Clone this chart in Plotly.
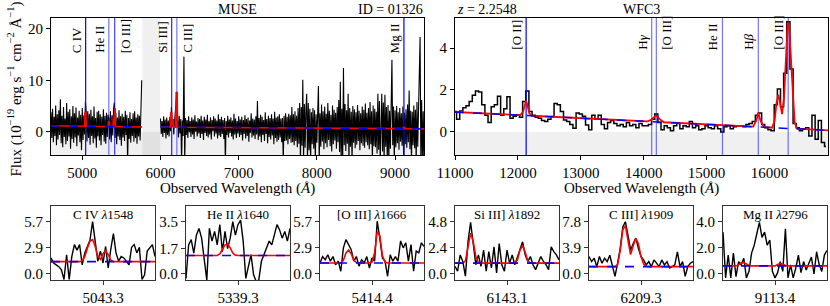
import numpy as np
import plotly.graph_objects as go

W, H = 830, 306
FONT = "Liberation Serif"

# ---------------- MUSE spectrum (10 A sampling) ----------------
muse_blue_start = 4600.0
muse_red_start = 6000.0
muse_step = 10.0
muse_blue_flux = [
    3.8, -1.2, 4.5, -2.0, 2.9, -0.8, 5.1, -2.6, 3.4, -1.5,
    4.2, -0.6, 6.3, -2.2, 3.1, -3.0, 4.8, -1.0, 2.6, -2.4,
    5.6, -1.8, 3.9, -0.9, 4.4, -3.3, 3.0, -1.4, 5.0, -2.1,
    3.6, -1.1, 4.7, -2.8, 2.8, -0.7, 4.1, -2.0, 3.3, -3.6,
    4.6, -1.6, 3.2, -0.5, 5.9, 3.8, -1.9, 4.0, -1.2, 3.5,
    -2.5, 4.3, -0.8, 3.0, -2.2, 4.9, -1.3, 2.7, -3.1, 3.9,
    -0.9, 4.1, -1.7, 3.4, -2.6, 2.9, -0.6, 4.4, -1.9, 3.1,
    -2.3, 3.7, -1.0, 3.3, 2.6, -1.5, 4.0, -2.0, 3.2, -0.7,
    4.5, 5.7, -1.2, 3.6, -2.4, 2.8, -0.9, 4.2, -1.6, 3.0,
    -2.7, 3.5, -1.1, 2.9, -1.8, 4.1, -0.6, 3.3, -6.0, 2.7,
    -1.4, 3.8, -2.1, 2.5, -0.8, 3.6, -1.9, 4.0, -1.2, 2.8,
    -2.3, 3.4, -0.9, 3.1, -1.7, 2.9, 10.0,
]
muse_red_flux = [
    2.6, -0.4, 2.1, -1.0, 3.0, -0.2, 2.4, -1.3, 2.8, -0.6,
    2.2, -0.9, 2.9, 0.1, 4.8, 1.0, 2.4, -0.5, 2.0, 3.5,
    5.2, 7.8, 2.6, -1.1, 3.1, -0.3, 2.5, -6.0, 2.2, -0.8,
    14.6, -6.0, 2.7, -0.6, 2.3, -1.2, 3.0, -0.1, 2.1, -1.0,
    2.8, -0.5, 2.4, -1.4, 3.2, 0.0, 2.0, -0.9, 2.7, -0.3,
    2.5, -1.2, 3.1, -0.4, 2.2, -1.6, 2.9, -0.2, 2.4, -0.8,
    3.3, -1.1, 2.1, -0.5, 2.8, -1.5, 2.3, 0.1, 3.0, -0.9,
    2.6, -0.3, 2.2, -1.3, 3.4, -0.7, 2.5, -1.0, 2.9, -0.4,
    2.3, -1.4, 2.7, -6.0, 2.1, -0.6, 3.1, -1.1, 2.4, -0.2,
    2.8, -0.9, 2.2, -1.5, 3.5, -0.5, 2.6, -1.2, 2.1, -0.3,
    3.0, -1.0, 2.4, -0.6, 2.9, -1.7, 2.3, -0.4, 3.2, -1.3,
    2.5, -0.8, 2.8, -1.9, 2.2, -0.2, 3.6, -1.1, 2.6, -0.7,
    2.4, -1.4, 3.0, -0.5, 6.0, -1.6, 2.7, -0.9, 3.3, -2.0,
    2.9, -0.6, 2.3, -1.8, 3.8, -0.4, 2.5, -2.2, 3.1, -1.0,
    2.7, -1.5, 3.4, -0.7, 2.6, -2.4, 3.9, -1.2, 2.8, -1.9,
    3.0, -1.6, 3.4, -1.1, 2.6, -2.0, 2.7, -6.0, 3.1, -1.8,
    3.6, -1.7, 2.9, -2.4, 3.5, -1.4, 3.2, -2.1, 4.8, -2.0,
    3.4, -2.6, 4.0, -1.8, 3.1, -3.0, 4.6, -2.3, 5.6, -6.0,
    4.8, -2.7, 10.1, -6.0, 5.4, -3.1, 4.3, 7.4, -6.0, 5.6,
    -3.6, 4.5, -6.0, 3.8, -2.4, 4.6, -3.3, 4.2, -6.0, 3.4,
    -2.1, 4.7, 8.9, -6.0, 3.6, -2.9, 5.3, -1.9, 4.0, -3.4,
    4.9, -2.2, 3.5, -3.0, 5.6, -1.6, 4.1, -2.8, 3.3, -3.8,
    5.1, -2.4, 4.3, -1.7, 3.7, -3.3, 4.8, -2.0, 6.2, -3.9,
    9.7, -6.0, 4.5, -6.0, 12.4, -2.6, 5.4, -3.7, 4.2, -2.3,
    7.4, -6.0, 4.6, -2.9, 3.9, -6.0, 5.0, -2.1, 4.4, -3.2,
    3.8, -2.5, 5.2, -1.8, 4.1, -3.6, 3.6, -2.2, 4.9, -2.7,
    4.3, -3.1, 5.5, -2.0, 3.7, -2.6, 4.6, -3.4, 5.8, -2.4,
    4.0, -6.0, 5.1, -2.8, 4.5, -3.0, 3.9, -4.2, 7.4, -3.5,
    6.0, -6.0, 4.4, 7.4, -3.8, 5.7, -6.0, 7.2, -2.9, 4.8,
    -6.0, 5.2, -6.0, 4.1, -3.3, 5.5, 14.0, -2.6, 4.9, -6.0,
    4.2, -3.0, 5.0, -2.2, 3.8, -3.5, 4.6, -1.9, 3.6, -2.7,
    4.9, -6.0, 3.7, -2.4, 4.4, -3.1, 5.3, -2.0, 8.0, -3.4,
    4.1, -6.0, 3.9, -2.6, 5.1, -3.2, 4.3, -6.0, 5.8, -2.9,
    4.7, 10.5, 18.4, -6.0, 6.2, -6.0, 4.0, -6.0,
]
muse_model_wave = [4600, 5030, 5035, 5045, 5050, 5330, 5335, 5343, 5348,
                   5392, 5397, 5402, 5406, 5410, 5419, 5424, 5760, None,
                   6000, 6128, 6133, 6143, 6148, 6155, 6163, 6168,
                   6196, 6201, 6213, 6218, 9100, 9105, 9120, 9125, 9370]
muse_model_flux = [1.17, 1.09, 3.7, 3.7, 1.09, 1.04, 2.0, 2.0, 1.03,
                   1.02, 2.6, 2.6, 1.3, 4.6, 4.6, 1.01, 0.95, None,
                   0.92, 0.91, 3.7, 3.7, 1.2, 2.5, 2.5, 0.9,
                   0.89, 7.6, 7.6, 0.89, 0.62, 0.85, 0.85, 0.62, 0.58]
muse_cont_wave = [4600, 5760, None, 6000, 9370]
muse_cont_flux = [1.17, 0.95, None, 0.92, 0.58]
muse_gap = [5767, 5997]
muse_lines_wave = [5043.3, 5339.3, 5414.4, 6143.1, 6209.3, 9113.4]
muse_lines_name = ["C IV", "He II", "[O III]", "Si III]", "C III]", "Mg II"]
muse_lines_side = ["left", "left", "right", "left", "right", "left"]
muse_lines_alpha = [1.0, 0.55, 0.75, 0.85, 0.55, 1.0]

# ---------------- WFC3 spectrum (50 A sampling) ----------------
wfc3_start = 11000.0
wfc3_step = 50.0
wfc3_flux = [
    0.97, 0.6, 1.0, 1.15, 1.25, 1.45, 1.75, 1.95, 1.9, 1.3,
    0.8, 0.45, 1.2, 1.3, 1.7, 0.8, 1.1, 1.68, 0.65, 0.75,
    0.8, 0.7, 1.45, 1.95, 0.97, 0.8, 0.7, 0.65, 0.55, 0.5,
    0.6, 0.73, 1.36, 1.3, 0.97, 0.57, 0.5, 0.35, 0.17, 0.9,
    0.85, 0.75, 0.33, 0.1, 0.8, 0.6, 0.8, 0.35, 0.15, 0.45,
    0.55, 0.4, 0.3, 0.35, 0.25, 0.45, 0.3, 0.35, 0.2, 0.4,
    0.3, 0.3, 0.35, 0.6, 0.85, 0.45, 0.1, 0.3, 0.2, 0.05,
    0.3, 0.4, 0.15, 0.3, 0.25, 0.5, 0.2, 0.3, 0.1, 0.15,
    0.3, 0.2, 0.15, 0.3, 0.15, 0.0, 0.25, 0.3, 0.15, 0.25,
    0.3, 0.28, 0.25, 0.35, 0.4, 0.5, 0.8, 0.9, 0.35, 0.2,
    0.1, 0.05, 1.3, 2.05, 1.2, 2.8, 5.25, 3.0, 0.4, 0.2,
    0.05, 0.15, 0.2, -0.2, 0.8, -0.35, 0.55, -0.5, -0.7,
]
wfc3_model_wave = [11000, 12040, 12080, 12110, 12130, 12150, 12180, 12220,
                   14060, 14120, 14180, 14210, 14250, 14320,
                   15740, 15790, 15822, 15855, 15910,
                   16040, 16080, 16110, 16141, 16170, 16200, 16230, 16260,
                   16290, 16310, 16340, 16370, 16400, 16440, 16940]
wfc3_model_flux = [0.95, 0.80, 0.95, 1.3, 1.48, 1.3, 0.9, 0.77,
                   0.50, 0.58, 0.74, 0.76, 0.62, 0.46,
                   0.25, 0.55, 0.92, 0.55, 0.24,
                   0.20, 0.5, 1.35, 1.78, 1.35, 0.85, 1.6, 3.6,
                   5.2, 5.1, 3.5, 1.5, 0.45, 0.16, 0.07]
wfc3_cont_wave = [11000, 16940]
wfc3_cont_flux = [0.95, 0.07]
wfc3_lines_wave = [12131, 14127, 14201, 15252, 15822, 16297]
wfc3_lines_name = ["[O II]", "H<i>γ</i>", "[O III]", "He II", "H<i>β</i>", "[O III]"]
wfc3_lines_side = ["left", "left", "right", "left", "left", "left"]
wfc3_lines_alpha = [1.0, 0.55, 0.55, 0.55, 0.55, 0.55]

# ---------------- zoom panels ----------------
zoom_titles = ["C IV <i>λ</i>1548", "He II <i>λ</i>1640", "[O III] <i>λ</i>1666",
               "Si III] <i>λ</i>1892", "C III] <i>λ</i>1909", "Mg II <i>λ</i>2796"]
zoom_centers = [5043.3, 5339.3, 5414.4, 6143.1, 6209.3, 9113.4]
zoom_yticks = [[0.0, 2.9, 5.7], [0.0, 1.7, 3.5], [0.0, 2.9, 5.7],
               [0.0, 2.4, 4.8], [0.0, 3.9, 7.8], [0.0, 2.0, 4.0]]
zoom_cont = [1.35, 1.24, 1.2, 1.0, 1.1, 0.62]
civ_flux = [1.75, 1.2, 1.0, 0.8, 0.45, -0.6, 2.1, -0.6, 1.9, 3.2, 2.6, 3.2, 1.0, 2.3,
            3.0, 3.7, 5.7, 3.7, 1.4, 2.5, 1.2, 3.0, 0.65, 2.7, 4.4, 2.3, 1.4, 1.9,
            1.75, 1.4, 1.0, 2.9, 3.2, 2.3, 2.9, -0.6, -0.1, 2.5, 2.9, 3.2, 1.9]
civ_model = [1.35, 1.35, 1.35, 1.35, 1.35, 1.35, 1.35, 1.35, 1.35, 1.35, 1.35, 1.35,
             1.45, 1.9, 2.8, 3.6, 3.75, 3.0, 1.9, 1.6, 2.2, 2.55, 2.1, 1.5,
             1.35, 1.35, 1.35, 1.35, 1.35, 1.35, 1.35, 1.35, 1.35, 1.35, 1.35, 1.35,
             1.35, 1.35, 1.35, 1.35, 1.35]
heii_flux = [-0.3, 1.95, 2.3, 1.4, 2.6, 3.05, 2.4, 0.85, -0.4, 3.05, 2.2, 2.85, 1.95, 3.3,
             1.5, 2.85, 1.7, 2.4, 3.5, 2.6, 3.3, 3.6, 2.2, -0.3, 0.4, 1.3, -0.05, -0.5,
             -0.4, 0.85, 1.3, 1.7, 2.2, 1.95, 2.6, 3.3, 2.95, 2.4, 2.85, 2.2, 3.05]
heii_model = [1.24, 1.24, 1.24, 1.24, 1.24, 1.24, 1.24, 1.24, 1.24, 1.24, 1.24, 1.24,
              1.24, 1.35, 1.7, 1.95, 2.0, 1.75, 1.4, 1.26, 1.24, 1.24, 1.24, 1.24,
              1.24, 1.24, 1.24, 1.24, 1.24, 1.24, 1.24, 1.24, 1.24, 1.24, 1.24, 1.24,
              1.24, 1.24, 1.24, 1.24, 1.24]
oiii_flux = [1.2, 1.9, 1.55, 2.1, 1.4, 1.9, 1.0, 1.4, 0.3, 2.85, 3.75, 3.2, 2.65, 1.4,
             1.9, 0.85, 1.55, 1.2, 1.9, 0.65, 1.75, 1.4, 5.75, 3.9, 1.75, 1.4, -0.25, 2.1,
             1.4, 1.9, 1.4, 3.6, 2.85, 3.4, 1.4, 3.2, 0.3, 2.5, 2.3, 3.4, 3.0]
oiii_model = [1.2, 1.2, 1.2, 1.2, 1.2, 1.2, 1.2, 1.2, 1.2, 1.5, 2.3, 2.6, 2.2, 1.5,
              1.25, 1.2, 1.2, 1.2, 1.2, 1.2, 1.3, 2.3, 4.6, 4.2, 2.0, 1.3, 1.2, 1.2,
              1.2, 1.2, 1.2, 1.2, 1.2, 1.2, 1.2, 1.2, 1.2, 1.2, 1.2, 1.2, 1.2]
siiii_flux = [0.7, 0.25, 1.75, 1.15, -0.2, 2.95, 4.75, 2.95, 0.85, 1.75, 0.7, 2.2, 0.25, 2.05,
              0.55, 2.5, 0.1, 2.8, 0.85, 0.25, 2.2, 1.0, 1.75, 0.85, 1.6, 2.35, 2.95, 1.75,
              1.15, 1.6, 0.85, 0.4, 1.0, 1.6, 1.15, 0.85, 0.4, 2.5, 2.05, 1.75, 1.3]
siiii_model = [1.0, 1.0, 1.0, 1.0, 1.2, 2.4, 3.75, 3.0, 1.6, 1.05, 1.0, 1.0, 1.0, 1.0,
               1.0, 1.0, 1.0, 1.0, 1.0, 1.0, 1.0, 1.0, 1.0, 1.0, 1.3, 2.2, 2.6, 2.0,
               1.2, 1.0, 1.0, 1.0, 1.0, 1.0, 1.0, 1.0, 1.0, 1.0, 1.0, 1.0, 1.0]
ciii_flux = [2.6, 1.85, 2.35, 1.1, 2.6, 1.6, 2.35, 1.85, 2.8, 1.1, -0.35, 1.6, 3.8, 7.0,
             7.8, 5.75, 3.55, 4.55, 5.35, 3.8, 2.6, 2.1, 1.35, 1.85, 1.1, 2.1, 1.6, 1.1,
             2.1, 1.35, 1.85, 0.9, 1.1, 1.35, 3.3, 1.1, 1.85, -0.35, 1.1, 1.6, 1.85]
ciii_model = [1.1, 1.1, 1.1, 1.1, 1.1, 1.1, 1.1, 1.1, 1.1, 1.1, 1.1, 1.4, 3.5, 6.6,
              7.2, 5.0, 2.9, 4.2, 5.3, 4.5, 2.6, 1.5, 1.15, 1.1, 1.1, 1.1, 1.1, 1.1,
              1.1, 1.1, 1.1, 1.1, 1.1, 1.1, 1.1, 1.1, 1.1, 1.1, 1.1, 1.1, 1.1]
mgii_flux = [3.2, -0.3, 1.45, -0.3, 1.6, -0.2, 0.95, 0.7, 1.2, -0.3, 0.2, 1.6, 2.2, 3.2,
             3.95, 2.8, 3.2, 2.2, 2.6, 0.2, -0.3, 0.1, 0.95, 0.2, 3.45, -0.3, 0.7, -0.3,
             0.45, 1.45, 0.1, 0.95, 0.3, 0.8, 1.3, 0.0, 1.7, 0.7, 0.2, 1.45, 1.8]
mgii_model = [0.62, 0.62, 0.62, 0.62, 0.62, 0.62, 0.7, 0.85, 0.88, 0.75, 0.65, 0.62, 0.62, 0.62,
              0.62, 0.62, 0.62, 0.62, 0.62, 0.62, 0.62, 0.72, 0.82, 0.75, 0.65, 0.62, 0.62, 0.62,
              0.62, 0.62, 0.62, 0.62, 0.62, 0.62, 0.62, 0.62, 0.62, 0.62, 0.62, 0.62, 0.62]
zoom_flux = [civ_flux, heii_flux, oiii_flux, siiii_flux, ciii_flux, mgii_flux]
zoom_model = [civ_model, heii_model, oiii_model, siiii_model, ciii_model, mgii_model]
zoom_halfwidth = 31.0

# ---------------- layout geometry (pixels) ----------------
top_y = (18, 155)
bot_y = (206, 280)
muse_x = (51, 424)
wfc3_x = (455, 828)
zoom_left = [51, 186, 320, 455, 589, 723]
zoom_w = 104
muse_range = ([4600, 9370], [-4.5, 22.1])
wfc3_range = ([11000, 16930], [-1.1, 5.43])


def xd(a, b):
    return [a / W, b / W]


def yd(a, b):
    return [1 - b / H, 1 - a / H]


def axis_style(fs, color="black"):
    return dict(showline=True, mirror=True, linecolor=color, linewidth=1,
                ticks="outside", ticklen=4, tickwidth=1, tickcolor=color,
                showgrid=False, zeroline=False, automargin=False,
                tickfont=dict(family=FONT, size=fs, color="black"))


fig = go.Figure()
layout = dict(template="none", width=W, height=H, autosize=False,
              margin=dict(l=0, r=0, t=0, b=0, pad=0),
              plot_bgcolor="white", paper_bgcolor="white", showlegend=False)
shapes = []
annotations = []


def txt(text, x, y, size, xanchor="center", yanchor="middle", xref="paper", yref="paper",
        angle=0, xshift=0):
    annotations.append(dict(text=text, x=x, y=y, xref=xref, yref=yref, showarrow=False,
                            xanchor=xanchor, yanchor=yanchor, textangle=angle, xshift=xshift,
                            borderpad=0, font=dict(family=FONT, size=size, color="black")))


def line(xs, ys, xa, ya, color, width, dash="solid", shape="linear"):
    fig.add_trace(go.Scatter(x=xs, y=ys, xaxis=xa, yaxis=ya, mode="lines",
                             line=dict(color=color, width=width, dash=dash, shape=shape),
                             connectgaps=False, hoverinfo="skip"))


def label(name, w, side, ypx, xref):
    if side == "left":
        txt(name, w, 1 - ypx / H, 13, xanchor="right", yanchor="bottom", xref=xref,
            angle=-90, xshift=-1)
    else:
        txt(name, w, 1 - ypx / H, 13, xanchor="left", yanchor="bottom", xref=xref,
            angle=-90, xshift=2)


# ---- MUSE panel ----
muse_blue_wave = list(muse_blue_start + muse_step * np.arange(len(muse_blue_flux)))
muse_red_wave = list(muse_red_start + muse_step * np.arange(len(muse_red_flux)))
layout["xaxis"] = dict(domain=xd(*muse_x), range=muse_range[0], anchor="y",
                       tickvals=[5000, 6000, 7000, 8000, 9000], tickformat="d",
                       **axis_style(15))
layout["yaxis"] = dict(domain=yd(*top_y), range=muse_range[1], anchor="x",
                       tickvals=[0, 10, 20], **axis_style(15))
shapes.append(dict(type="rect", xref="x", yref="y", x0=muse_range[0][0], x1=muse_range[0][1],
                   y0=muse_range[1][0], y1=0, fillcolor="rgba(0,0,0,0.06)", line_width=0,
                   layer="below"))
shapes.append(dict(type="rect", xref="x", yref="y domain", x0=muse_gap[0], x1=muse_gap[1],
                   y0=0, y1=1, fillcolor="rgba(0,0,0,0.06)", line_width=0, layer="below"))
line(muse_blue_wave + [None] + muse_red_wave, muse_blue_flux + [None] + muse_red_flux,
     "x", "y", "black", 1.1)
for w, a in zip(muse_lines_wave, muse_lines_alpha):
    line([w, w], muse_range[1], "x", "y", f"rgba(0,0,255,{a})", 1.2)
line(muse_model_wave, muse_model_flux, "x", "y", "red", 1.6)
line(muse_cont_wave, muse_cont_flux, "x", "y", "blue", 1.5, dash="dash")
for w, n, s in zip(muse_lines_wave, muse_lines_name, muse_lines_side):
    label(n, w, s, 54, "x")

# ---- WFC3 panel ----
wfc3_wave = list(wfc3_start + wfc3_step * np.arange(len(wfc3_flux)))
layout["xaxis2"] = dict(domain=xd(*wfc3_x), range=wfc3_range[0], anchor="y2",
                        tickvals=[11000, 12000, 13000, 14000, 15000, 16000], tickformat="d",
                        **axis_style(15))
layout["yaxis2"] = dict(domain=yd(*top_y), range=wfc3_range[1], anchor="x2",
                        tickvals=[0, 2, 4], **axis_style(15))
shapes.append(dict(type="rect", xref="x2", yref="y2", x0=wfc3_range[0][0], x1=wfc3_range[0][1],
                   y0=wfc3_range[1][0], y1=0, fillcolor="rgba(0,0,0,0.06)", line_width=0,
                   layer="below"))
line(wfc3_wave, wfc3_flux, "x2", "y2", "black", 1.5, shape="hvh")
for w, a in zip(wfc3_lines_wave, wfc3_lines_alpha):
    line([w, w], wfc3_range[1], "x2", "y2", f"rgba(0,0,255,{a})", 1.2)
line(wfc3_model_wave, wfc3_model_flux, "x2", "y2", "red", 1.8)
line(wfc3_cont_wave, wfc3_cont_flux, "x2", "y2", "blue", 1.5, dash="dash")
for w, n, s in zip(wfc3_lines_wave, wfc3_lines_name, wfc3_lines_side):
    label(n, w, s, 51, "x2")

# ---- zoom panels ----
offsets = np.linspace(-zoom_halfwidth, zoom_halfwidth, len(civ_flux))
for k in range(6):
    idx = k + 3
    xa, ya = f"x{idx}", f"y{idx}"
    c = zoom_centers[k]
    top = zoom_yticks[k][-1]
    yr = [-0.115 * top, 1.3 * top]
    xr = [c - zoom_halfwidth, c + zoom_halfwidth]
    layout[f"xaxis{idx}"] = dict(domain=xd(zoom_left[k], zoom_left[k] + zoom_w), range=xr,
                                 anchor=ya, tickvals=[c], ticktext=[f"{c:.1f}"],
                                 **axis_style(15, "#333"))
    layout[f"yaxis{idx}"] = dict(domain=yd(*bot_y), range=yr, anchor=xa,
                                 tickvals=zoom_yticks[k],
                                 ticktext=[f"{v:.1f}" for v in zoom_yticks[k]],
                                 **axis_style(15, "#333"))
    wl = list(c + offsets)
    line(wl, zoom_flux[k], xa, ya, "black", 1.4)
    line(wl, zoom_model[k], xa, ya, "red", 1.6)
    line(xr, [zoom_cont[k], zoom_cont[k]], xa, ya, "blue", 1.6, dash="dash")
    txt(zoom_titles[k], (zoom_left[k] + zoom_w / 2) / W, 1 - 214 / H, 13)

# ---- titles & labels ----
txt("MUSE", 237 / W, 1 - 9 / H, 14)
txt("ID = 01326", 424 / W, 1 - 9 / H, 14, xanchor="right")
txt("<i>z</i> = 2.2548", 456 / W, 1 - 9 / H, 14, xanchor="left")
txt("WFC3", 641 / W, 1 - 9 / H, 14)
txt("Observed Wavelength (<i>Å</i>)", 237.5 / W, 1 - 188 / H, 15)
txt("Observed Wavelength (<i>Å</i>)", 641.5 / W, 1 - 188 / H, 15)
txt("Flux (10<sup>−19</sup> erg s<sup>−1</sup> cm<sup>−2</sup> Å<sup>−1</sup>)",
    15 / W, 1 - 178 / H, 15, yanchor="bottom", angle=-90)

layout["shapes"] = shapes
layout["annotations"] = annotations
fig.update_layout(**layout)
fig.write_html("out.html", config={"displayModeBar": False},
               post_script="document.body.style.margin='0px';document.body.style.padding='0px';")
